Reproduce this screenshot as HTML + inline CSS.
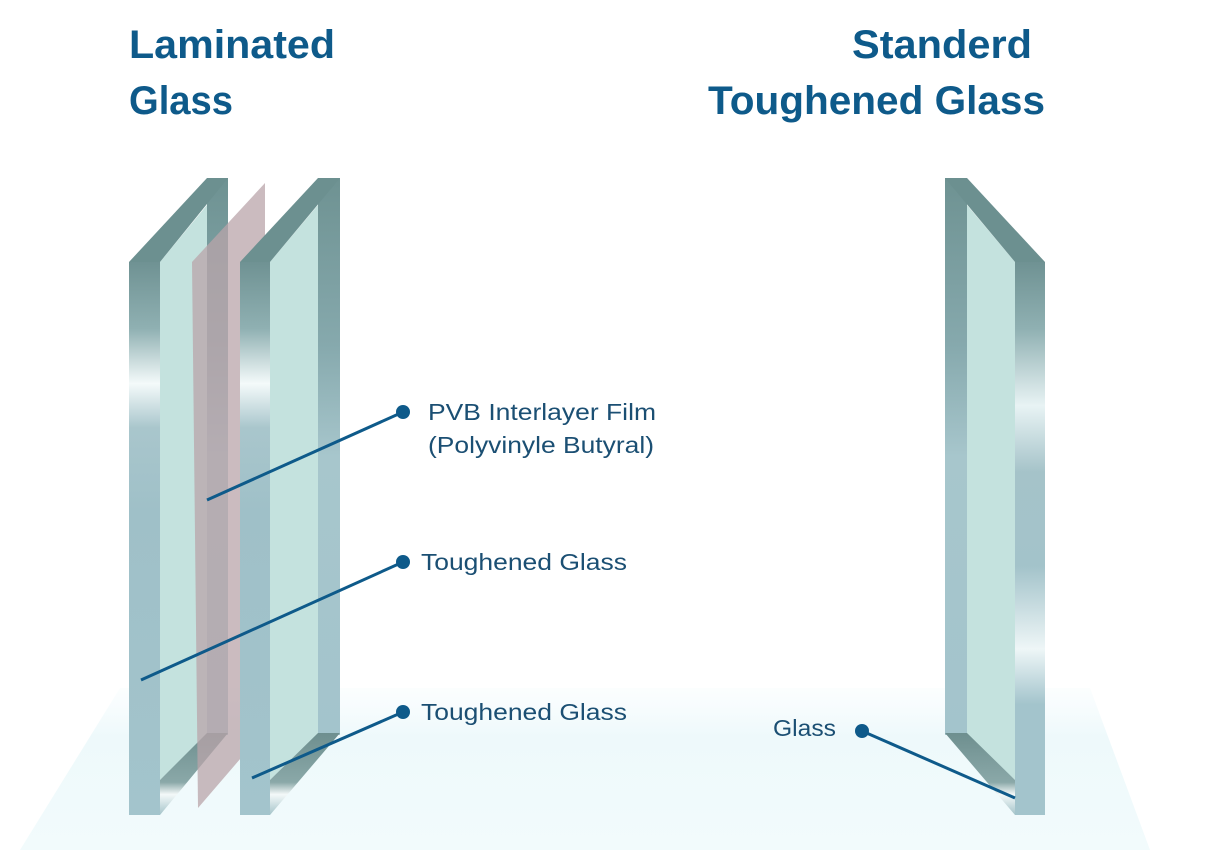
<!DOCTYPE html>
<html><head><meta charset="utf-8"><style>
html,body{margin:0;padding:0;background:#fff;}
svg{display:block;}
</style></head><body>
<svg width="1206" height="850" viewBox="0 0 1206 850" xmlns="http://www.w3.org/2000/svg" font-family="Liberation Sans, sans-serif">
<defs>
<linearGradient id="floor" x1="0" y1="0" x2="0" y2="1">
<stop offset="0" stop-color="#f3fbfd" stop-opacity="0.3"/><stop offset="0.3" stop-color="#eef9fb"/><stop offset="1" stop-color="#f2fbfc"/>
</linearGradient>
<linearGradient id="strip" x1="0" y1="262" x2="0" y2="815" gradientUnits="userSpaceOnUse">
<stop offset="0" stop-color="#6f9293"/><stop offset="0.12" stop-color="#8fb0b2"/><stop offset="0.22" stop-color="#f4fafa"/><stop offset="0.3" stop-color="#a9c6cc"/><stop offset="0.45" stop-color="#9fc0c8"/><stop offset="1" stop-color="#a3c4cc"/>
</linearGradient>
<linearGradient id="strip2" x1="0" y1="262" x2="0" y2="815" gradientUnits="userSpaceOnUse">
<stop offset="0" stop-color="#6f9293"/><stop offset="0.12" stop-color="#8fb0b2"/><stop offset="0.26" stop-color="#e8f3f4"/><stop offset="0.38" stop-color="#a5c3c9"/><stop offset="0.55" stop-color="#a3c3ca"/><stop offset="0.7" stop-color="#eef6f7"/><stop offset="0.8" stop-color="#a3c4cc"/><stop offset="1" stop-color="#a3c4cc"/>
</linearGradient>
<linearGradient id="back" x1="0" y1="178" x2="0" y2="735" gradientUnits="userSpaceOnUse">
<stop offset="0" stop-color="#6e9292"/><stop offset="0.3" stop-color="#86a9ad"/><stop offset="0.5" stop-color="#a7c6cc"/><stop offset="1" stop-color="#a3c4cc"/>
</linearGradient>
<linearGradient id="bev" x1="0" y1="0" x2="0" y2="1">
<stop offset="0" stop-color="#6e8f8f"/><stop offset="0.6" stop-color="#8aa8a8"/><stop offset="0.75" stop-color="#f4f9f9"/><stop offset="1" stop-color="#a4c3c9"/>
</linearGradient>
</defs>
<rect width="1206" height="850" fill="#fff"/>
<polygon points="120,688 1090,688 1150,850 20,850" fill="url(#floor)"/>

<!-- Laminated pane 1 -->
<g>
<rect x="207" y="178" width="21" height="557" fill="url(#back)"/>
<polygon points="160,262 207,205 207,735 160,780" fill="#c4e2de"/>
<polygon points="129,262 207,178 228,178 160,262" fill="#6c9090"/>
<polygon points="160,780 207,733 228,733 160,815" fill="url(#bev)"/>
<rect x="129" y="262" width="31" height="553" fill="url(#strip)"/>
</g>
<!-- PVB film -->
<polygon points="192,262 265,183 265,730 198,808" fill="#b9a4aa" opacity="0.75"/>
<!-- pane 2 -->
<g>
<rect x="318" y="178" width="22" height="557" fill="url(#back)"/>
<polygon points="270,262 318,205 318,735 270,780" fill="#c4e2de"/>
<polygon points="240,262 318,178 340,178 270,262" fill="#6c9090"/>
<polygon points="270,780 318,733 340,733 270,815" fill="url(#bev)"/>
<rect x="240" y="262" width="30" height="553" fill="url(#strip)"/>
</g>
<!-- right pane -->
<g>
<rect x="945" y="178" width="22" height="557" fill="url(#back)"/>
<polygon points="967,205 1015,262 1015,780 967,735" fill="#c4e2de"/>
<polygon points="945,178 967,178 1045,262 1015,262" fill="#6c9090"/>
<polygon points="945,733 967,733 1015,780 1015,815" fill="url(#bev)"/>
<rect x="1015" y="262" width="30" height="553" fill="url(#strip2)"/>
</g>

<!-- headings -->
<g fill="#0e5a8a" font-weight="bold" font-size="40">
<text x="129" y="58" textLength="206" lengthAdjust="spacingAndGlyphs">Laminated</text>
<text x="129" y="114" textLength="104" lengthAdjust="spacingAndGlyphs">Glass</text>
<text x="852" y="58" textLength="180" lengthAdjust="spacingAndGlyphs">Standerd</text>
<text x="708" y="114" textLength="337" lengthAdjust="spacingAndGlyphs">Toughened Glass</text>
</g>

<!-- connectors -->
<g stroke="#0e5a8a" stroke-width="3" fill="none">
<line x1="403" y1="412" x2="207" y2="500"/>
<line x1="403" y1="562" x2="141" y2="680"/>
<line x1="403" y1="712" x2="252" y2="778"/>
<line x1="862" y1="731" x2="1015" y2="798"/>
</g>
<g fill="#0e5a8a">
<circle cx="403" cy="412" r="7"/><circle cx="403" cy="562" r="7"/><circle cx="403" cy="712" r="7"/><circle cx="862" cy="731" r="7"/>
</g>
<g fill="#1b4f73" font-size="23">
<text x="428" y="420" textLength="228" lengthAdjust="spacingAndGlyphs">PVB Interlayer Film</text>
<text x="428" y="453" textLength="226" lengthAdjust="spacingAndGlyphs">(Polyvinyle Butyral)</text>
<text x="421" y="570" textLength="206" lengthAdjust="spacingAndGlyphs">Toughened Glass</text>
<text x="421" y="720" textLength="206" lengthAdjust="spacingAndGlyphs">Toughened Glass</text>
<text x="773" y="736" textLength="63" lengthAdjust="spacingAndGlyphs">Glass</text>
</g>
</svg>
</body></html>
